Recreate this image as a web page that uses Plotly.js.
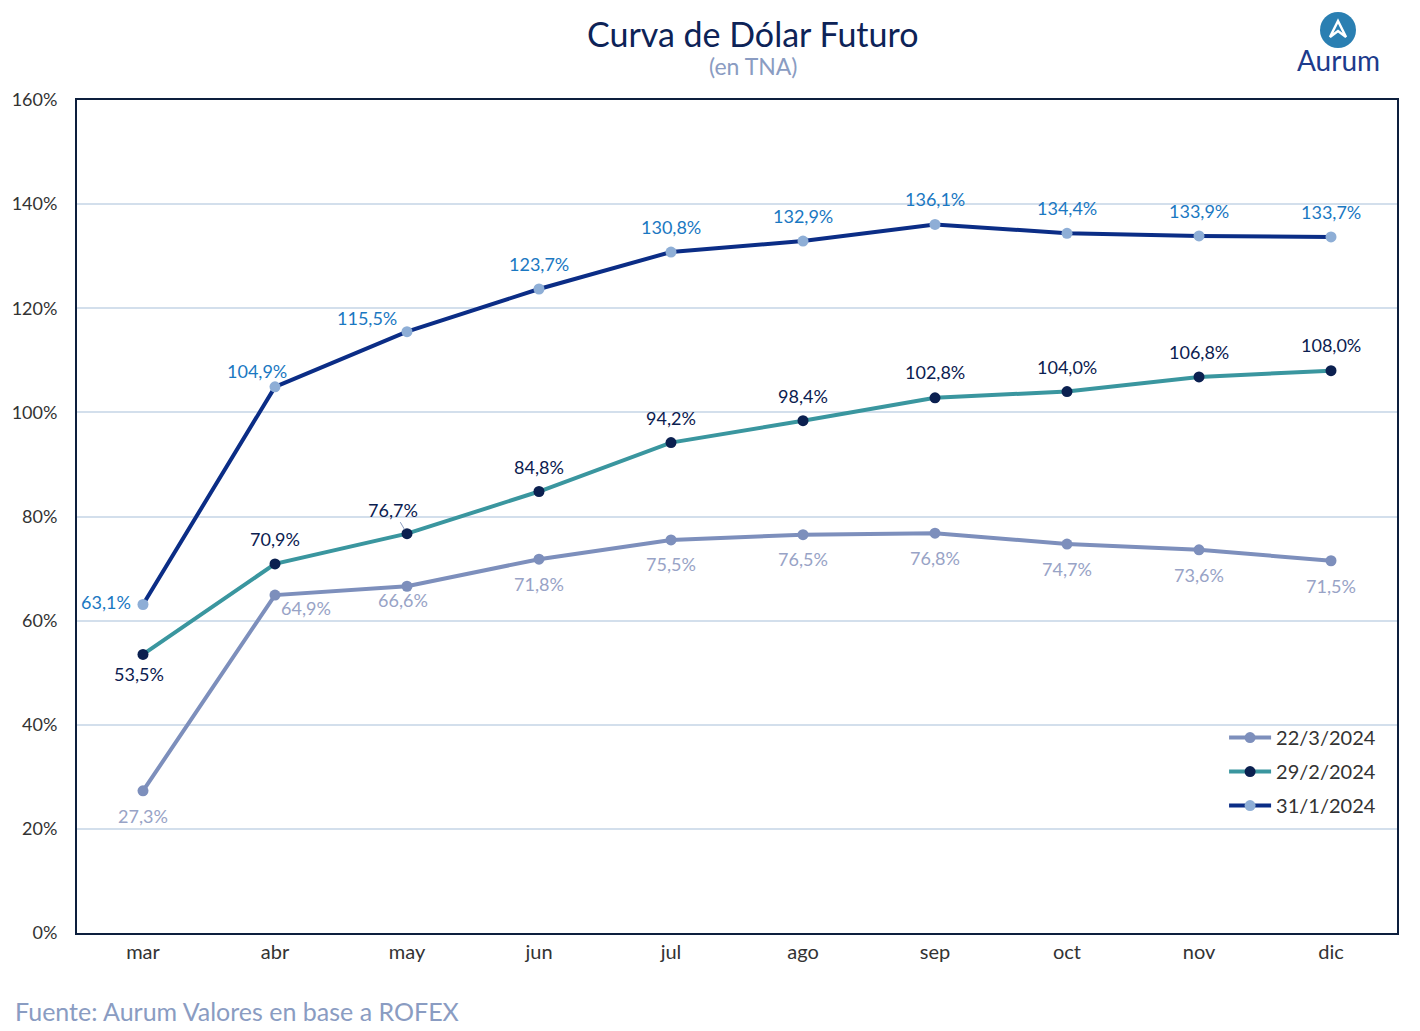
<!DOCTYPE html>
<html>
<head>
<meta charset="utf-8">
<script src="https://cdn.plot.ly/plotly-3.0.1.min.js"></script>
<style>
  html, body { margin: 0; padding: 0; background: #ffffff; }
  #chart { width: 1420px; height: 1031px; }
</style>
</head>
<body>
<div id="chart"></div>
<script>
// Futures curve months
const months = ['mar', 'abr', 'may', 'jun', 'jul', 'ago', 'sep', 'oct', 'nov', 'dic'];

// Implied annual rates (TNA, %) per snapshot date
const serie_22_3 = [27.3, 64.9, 66.6, 71.8, 75.5, 76.5, 76.8, 74.7, 73.6, 71.5];
const serie_29_2 = [53.5, 70.9, 76.7, 84.8, 94.2, 98.4, 102.8, 104.0, 106.8, 108.0];
const serie_31_1 = [63.1, 104.9, 115.5, 123.7, 130.8, 132.9, 136.1, 134.4, 133.9, 133.7];

const seriesNames = ['22/3/2024', '29/2/2024', '31/1/2024'];
const yTicks = [0, 20, 40, 60, 80, 100, 120, 140, 160];
const yTickText = yTicks.map(v => v + '%');

// label offsets (pixels) around each point
const off_22_3 = [[0, -25], [31, -13], [-4, -14], [0, -25], [0, -24], [0, -24], [0, -25], [0, -25], [0, -25], [0, -25]];
const off_29_2 = [[-4, -20], [0, 25], [-14, 24], [0, 25], [0, 25], [0, 25], [0, 26], [0, 25], [0, 25], [0, 26]];
const off_31_1 = [[-37, 2], [-18, 16], [-40, 14], [0, 25], [0, 25], [0, 25], [0, 25], [0, 25], [0, 25], [0, 25]];

const fmt = v => v.toFixed(1).replace('.', ',') + '%';
const FONT = 'Lato, "Noto Sans", sans-serif';

const styles = [
  { line: '#7d8fbc', marker: '#7d8fbc', label: '#98a3c6', data: serie_22_3, off: off_22_3 },
  { line: '#3a969f', marker: '#0b2050', label: '#0b2050', data: serie_29_2, off: off_29_2 },
  { line: '#0b2d86', marker: '#8eaed6', label: '#1a78c2', data: serie_31_1, off: off_31_1 }
];

const traces = styles.map((s, i) => ({
  type: 'scatter',
  mode: 'lines+markers',
  name: seriesNames[i],
  legendgroup: 'g' + i,
  x: months,
  y: s.data,
  line: { color: s.line, width: 4 },
  marker: { color: s.marker, size: 11 },
  hoverinfo: 'skip'
}));

const annotations = [];
styles.forEach(s => {
  s.data.forEach((v, j) => {
    const withArrow = (s.data === serie_29_2 && j === 2);
    const a = {
      xref: 'x', yref: 'y', x: months[j], y: v,
      text: fmt(v),
      font: { family: FONT, size: 18, color: s.label },
      showarrow: false,
      xshift: s.off[j][0], yshift: s.off[j][1]
    };
    if (withArrow) {
      a.showarrow = true;
      a.arrowhead = 0;
      a.arrowwidth = 1;
      a.arrowcolor = '#8a9cc0';
      a.standoff = 5;
      a.ax = -14; a.ay = -24;
      a.xshift = 0; a.yshift = 0;
    }
    annotations.push(a);
  });
});

// titles, logo text and source note
annotations.push(
  { xref: 'paper', yref: 'paper', x: 0.512, y: 1.0, yshift: 67, xanchor: 'center', yanchor: 'middle',
    text: 'Curva de Dólar Futuro', showarrow: false,
    font: { family: FONT, size: 34, color: '#0d2357' } },
  { xref: 'paper', yref: 'paper', x: 0.512, y: 1.0, yshift: 34, xanchor: 'center', yanchor: 'middle',
    text: '(en TNA)', showarrow: false,
    font: { family: FONT, size: 23, color: '#8a9cc2' } },
  { xref: 'paper', yref: 'paper', x: 0.956, y: 1.0, yshift: 40, xanchor: 'center', yanchor: 'middle',
    text: 'Aurum', showarrow: false,
    font: { family: FONT, size: 28, color: '#1d3b8c' } },
  { xref: 'paper', yref: 'paper', x: 0, xshift: -64, y: 0, yshift: -78, xanchor: 'left', yanchor: 'middle',
    text: 'Fuente: Aurum Valores en base a ROFEX', showarrow: false,
    font: { family: FONT, size: 25, color: '#8a9cc2' } }
);

// logo badge in pixel space converted to paper coordinates
const L = 77, R = 1397, T = 100, B = 933;
const px = x => (x - L) / (R - L);
const py = y => (B - y) / (B - T);
const cx = 1338, cy = 30, r = 18;
const shapes = [
  { type: 'circle', xref: 'paper', yref: 'paper',
    x0: px(cx - r), x1: px(cx + r), y0: py(cy + r), y1: py(cy - r),
    fillcolor: '#2a7fb2', line: { width: 0 } },
  { type: 'path', xref: 'paper', yref: 'paper',
    path: `M ${px(cx - 8)} ${py(cy + 7)} L ${px(cx)} ${py(cy - 9)} L ${px(cx + 8)} ${py(cy + 7)} L ${px(cx)} ${py(cy + 1)} Z`,
    fillcolor: 'rgba(0,0,0,0)', line: { color: '#ffffff', width: 2.5 } }
];

const layout = {
  width: 1420, height: 1031,
  margin: { l: 77, r: 23, t: 100, b: 98 },
  paper_bgcolor: '#ffffff', plot_bgcolor: '#ffffff',
  separators: ',.',
  font: { family: FONT, color: '#333333' },
  showlegend: true,
  legend: {
    x: 0.869, y: 0.258, xanchor: 'left', yanchor: 'top',
    font: { family: FONT, size: 20, color: '#333333' },
    bgcolor: 'rgba(255,255,255,0)', tracegroupgap: 5, itemwidth: 42
  },
  xaxis: {
    type: 'category', range: [-0.5, 9.5],
    showgrid: false, zeroline: false,
    showline: true, mirror: true, linecolor: '#0d1f3d', linewidth: 2,
    ticks: '', tickfont: { family: FONT, size: 20, color: '#333333' }
  },
  yaxis: {
    range: [0, 160], tickmode: 'array', tickvals: yTicks, ticktext: yTickText,
    showgrid: true, gridcolor: '#d3dfec', gridwidth: 2,
    zeroline: false,
    showline: true, mirror: true, linecolor: '#0d1f3d', linewidth: 2,
    ticks: '', ticklabelstandoff: 14,
    tickfont: { family: FONT, size: 18, color: '#333333' }
  },
  annotations: annotations,
  shapes: shapes
};

Plotly.newPlot('chart', traces, layout, { displayModeBar: false, staticPlot: true });
</script>
</body>
</html>
